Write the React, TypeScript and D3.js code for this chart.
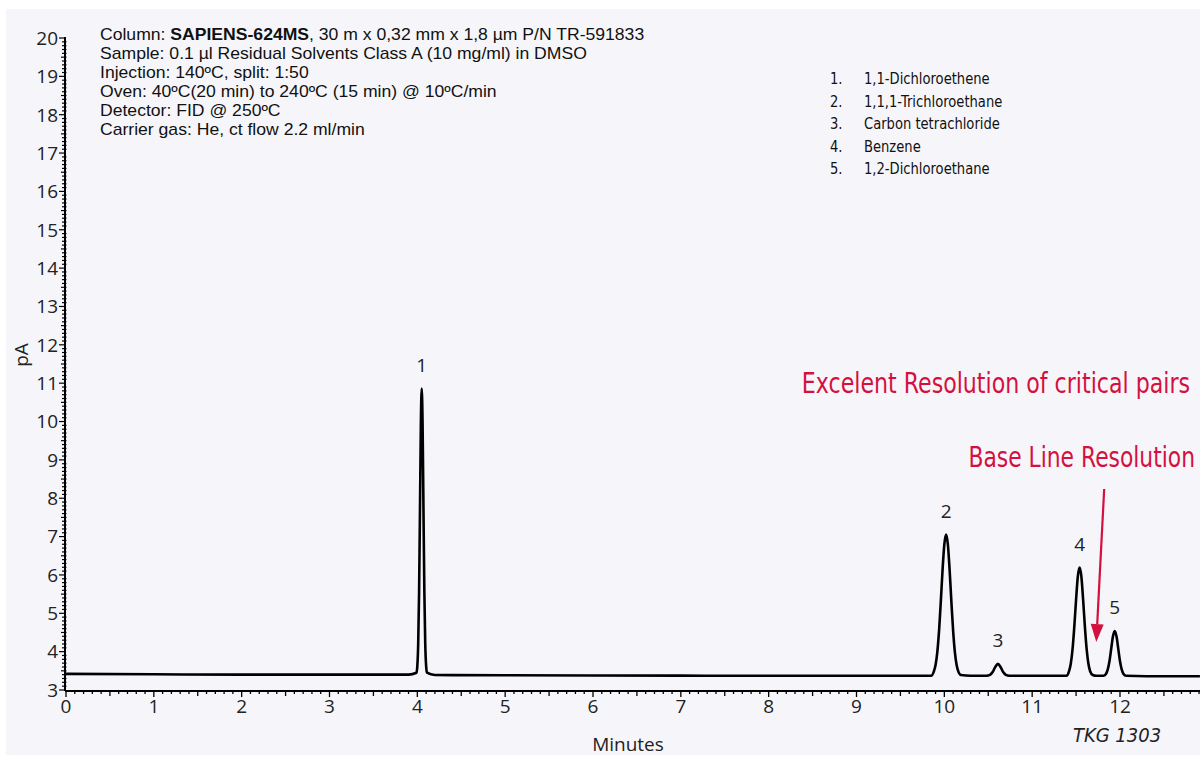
import React from "react";
import * as d3 from "d3";

// ---- Data ----
const xTicks = [0, 1, 2, 3, 4, 5, 6, 7, 8, 9, 10, 11, 12];
const yTicks = [3, 4, 5, 6, 7, 8, 9, 10, 11, 12, 13, 14, 15, 16, 17, 18, 19, 20];

const baselineA: [number, number][] = [[0, 3.42], [1, 3.41], [2, 3.40], [3, 3.40], [3.9, 3.40]];
const peak1: [number, number][] = [
  [3.99, 3.45], [4.0, 3.63], [4.01, 4.21], [4.02, 5.55], [4.03, 7.69], [4.04, 9.9], [4.05, 10.86],
  [4.06, 9.9], [4.07, 7.69], [4.08, 5.55], [4.09, 4.21], [4.1, 3.63], [4.11, 3.45],
];
const baselineB: [number, number][] = [[4.2, 3.39], [5, 3.385], [6, 3.38], [7, 3.375], [8, 3.37], [9, 3.37], [9.85, 3.37]];
const peak2: [number, number][] = [
  [9.88, 3.48], [9.9, 3.65], [9.92, 3.99], [9.94, 4.55], [9.96, 5.31], [9.98, 6.14], [10.0, 6.8], [10.02, 7.05],
  [10.04, 6.8], [10.06, 6.14], [10.08, 5.31], [10.1, 4.55], [10.12, 3.99], [10.14, 3.65], [10.16, 3.48], [10.19, 3.39],
];
const baselineC: [number, number][] = [[10.3, 3.37], [10.48, 3.37]];
const peak3: [number, number][] = [[10.52, 3.395], [10.55, 3.47], [10.58, 3.6], [10.61, 3.68], [10.64, 3.6], [10.67, 3.47], [10.7, 3.395], [10.74, 3.37]];
const baselineD: [number, number][] = [[10.9, 3.37], [11.2, 3.37], [11.39, 3.37]];
const peak4: [number, number][] = [
  [11.42, 3.49], [11.44, 3.69], [11.46, 4.07], [11.48, 4.66], [11.5, 5.36], [11.52, 5.96], [11.54, 6.19],
  [11.56, 5.96], [11.58, 5.36], [11.6, 4.66], [11.62, 4.07], [11.64, 3.69], [11.66, 3.49], [11.69, 3.39],
];
const valley: [number, number][] = [[11.73, 3.37], [11.77, 3.37]];
const peak5: [number, number][] = [
  [11.81, 3.37], [11.84, 3.42], [11.86, 3.53], [11.88, 3.75], [11.9, 4.08], [11.92, 4.4], [11.94, 4.54],
  [11.96, 4.4], [11.98, 4.08], [12.0, 3.75], [12.02, 3.53], [12.04, 3.42], [12.07, 3.37],
];
const baselineE: [number, number][] = [[12.3, 3.36], [12.91, 3.36]];

const peakLabels = ["1", "2", "3", "4", "5"];
const peakApexTime = [4.05, 10.02, 10.61, 11.54, 11.94];
const peakApexSignal = [10.86, 7.05, 3.68, 6.19, 4.54];

const legendNumbers = ["1.", "2.", "3.", "4.", "5."];
const legendNames = ["1,1-Dichloroethene", "1,1,1-Trichloroethane", "Carbon tetrachloride", "Benzene", "1,2-Dichloroethane"];

const conditionLines = [
  "Sample: 0.1 µl Residual Solvents Class A (10 mg/ml) in DMSO",
  "Injection: 140ºC, split: 1:50",
  "Oven: 40ºC(20 min) to 240ºC (15 min) @ 10ºC/min",
  "Detector: FID @ 250ºC",
  "Carrier gas: He, ct flow 2.2 ml/min",
];

const annotation1 = "Excelent Resolution of critical pairs";
const annotation2 = "Base Line Resolution";
const arrowFrom: [number, number] = [11.82, 8.24];
const arrowTo: [number, number] = [11.73, 4.25];

const W = 1200;
const H = 762;
const RED = "#d4103f";
const tickFont = "'Open Sans', 'Noto Sans', sans-serif";
const narrowFont = "'DejaVu Sans', sans-serif";
const headerFont = "'Liberation Sans', Arial, sans-serif";

export default function App() {
  const x = d3.scaleLinear().domain([0, 12]).range([66, 1120]);
  const y = d3.scaleLinear().domain([3, 20]).range([690, 38]);
  const xMax = x.invert(1200);

  const trace = [
    ...baselineA, ...peak1, ...baselineB, ...peak2, ...baselineC, ...peak3,
    ...baselineD, ...peak4, ...valley, ...peak5, ...baselineE,
  ];
  const line = d3.line<[number, number]>().x((d) => x(d[0])).y((d) => y(d[1])).curve(d3.curveMonotoneX);

  const xMinor = d3.range(0, Math.floor(xMax * 10) + 1).map((i) => i / 10);
  const yMinor = d3.range(30, 201).map((i) => i / 10);

  const ax = x(0) - 1;
  const ay = y(3) + 1;

  const ax1 = x(arrowFrom[0]);
  const ay1 = y(arrowFrom[1]);
  const ax2 = x(arrowTo[0]);
  const ay2 = y(arrowTo[1]);
  const ang = Math.atan2(ay2 - ay1, ax2 - ax1);
  const headLen = 18;
  const headHalf = 6.5;
  const bx = ax2 - headLen * Math.cos(ang);
  const by = ay2 - headLen * Math.sin(ang);
  const px = -Math.sin(ang);
  const py = Math.cos(ang);

  const legendScale = 0.82;

  return (
    <svg width={W} height={H} style={{ position: "absolute", left: 0, top: 0 }} xmlns="http://www.w3.org/2000/svg">
      <rect x={0} y={0} width={W} height={H} fill="#ffffff" />
      <rect x={6} y={9} width={W - 6} height={746} fill="#f6f6fa" />

      {/* y axis */}
      <line x1={ax} x2={ax} y1={y(20) - 1} y2={ay} stroke="#000" strokeWidth={2} />
      {yMinor.map((v, i) => {
        const major = i % 10 === 0;
        const half = i % 5 === 0;
        return (
          <line key={"ym" + i} x1={ax - (major ? 6 : half ? 4 : 3)} x2={ax + (major ? 0 : 1.5)} y1={y(v)} y2={y(v)} stroke="#000" strokeWidth={1.2} />
        );
      })}
      {yTicks.map((v) => (
        <text key={"yt" + v} x={ax - 7} y={y(v)} dy="0.36em" textAnchor="end" fontFamily={tickFont} fontSize={19} fill="#222">
          {v}
        </text>
      ))}

      {/* x axis */}
      <line x1={ax} x2={W} y1={ay} y2={ay} stroke="#000" strokeWidth={2} />
      {xMinor.map((v, i) => {
        const major = i % 10 === 0;
        const half = i % 5 === 0;
        return (
          <line key={"xm" + i} x1={x(v)} x2={x(v)} y1={ay} y2={ay + (major ? 6 : half ? 5 : 3)} stroke="#000" strokeWidth={1.3} />
        );
      })}
      {xTicks.map((v) => (
        <text key={"xt" + v} x={x(v)} y={ay + 22} textAnchor="middle" fontFamily={tickFont} fontSize={19} fill="#222">
          {v}
        </text>
      ))}

      <text x={0} y={0} transform={`translate(28, 355) rotate(-90)`} textAnchor="middle" fontFamily={tickFont} fontSize={19} fill="#222">
        pA
      </text>
      <text x={628} y={751} textAnchor="middle" fontFamily={tickFont} fontSize={19} fill="#222">
        Minutes
      </text>
      <g transform="translate(1117,742) scale(0.9,1)">
        <text x={0} y={0} textAnchor="middle" fontFamily={narrowFont} fontStyle="italic" fontSize={20} fill="#222">
          TKG 1303
        </text>
      </g>

      {/* trace */}
      <path d={line(trace) || ""} fill="none" stroke="#000" strokeWidth={2.6} strokeLinejoin="round" />

      {peakLabels.map((l, i) => (
        <text key={"pl" + i} x={x(peakApexTime[i])} y={y(peakApexSignal[i]) - 17} textAnchor="middle" fontFamily={tickFont} fontSize={19} fill="#222">
          {l}
        </text>
      ))}

      {/* header */}
      <g transform="translate(100,0) scale(1.1,1)">
        <text x={0} y={40} fontFamily={headerFont} fontSize={16} fill="#111">
          Column: <tspan fontWeight="bold">SAPIENS-624MS</tspan>, 30 m x 0,32 mm x 1,8 µm P/N TR-591833
        </text>
        {conditionLines.map((t, i) => (
          <text key={"cl" + i} x={0} y={59 + i * 19} fontFamily={headerFont} fontSize={16} fill="#111">
            {t}
          </text>
        ))}
      </g>

      {/* legend */}
      {legendNames.map((n, i) => (
        <g key={"lg" + i} transform={`translate(830, ${84 + i * 22.5}) scale(${legendScale},1)`}>
          <text x={0} y={0} fontFamily={narrowFont} fontSize={16} fill="#111">
            {legendNumbers[i]}
          </text>
          <text x={34 / legendScale} y={0} fontFamily={narrowFont} fontSize={16} fill="#111">
            {n}
          </text>
        </g>
      ))}

      {/* annotations */}
      <g transform="translate(1190,393) scale(0.79,1)">
        <text x={0} y={0} textAnchor="end" fontFamily={narrowFont} fontSize={28} fill={RED}>
          {annotation1}
        </text>
      </g>
      <g transform="translate(1195,467) scale(0.78,1)">
        <text x={0} y={0} textAnchor="end" fontFamily={narrowFont} fontSize={28} fill={RED}>
          {annotation2}
        </text>
      </g>
      <line x1={ax1} y1={ay1} x2={bx} y2={by} stroke={RED} strokeWidth={2.2} />
      <polygon
        points={`${ax2},${ay2} ${bx + px * headHalf},${by + py * headHalf} ${bx - px * headHalf},${by - py * headHalf}`}
        fill={RED}
      />
    </svg>
  );
}
